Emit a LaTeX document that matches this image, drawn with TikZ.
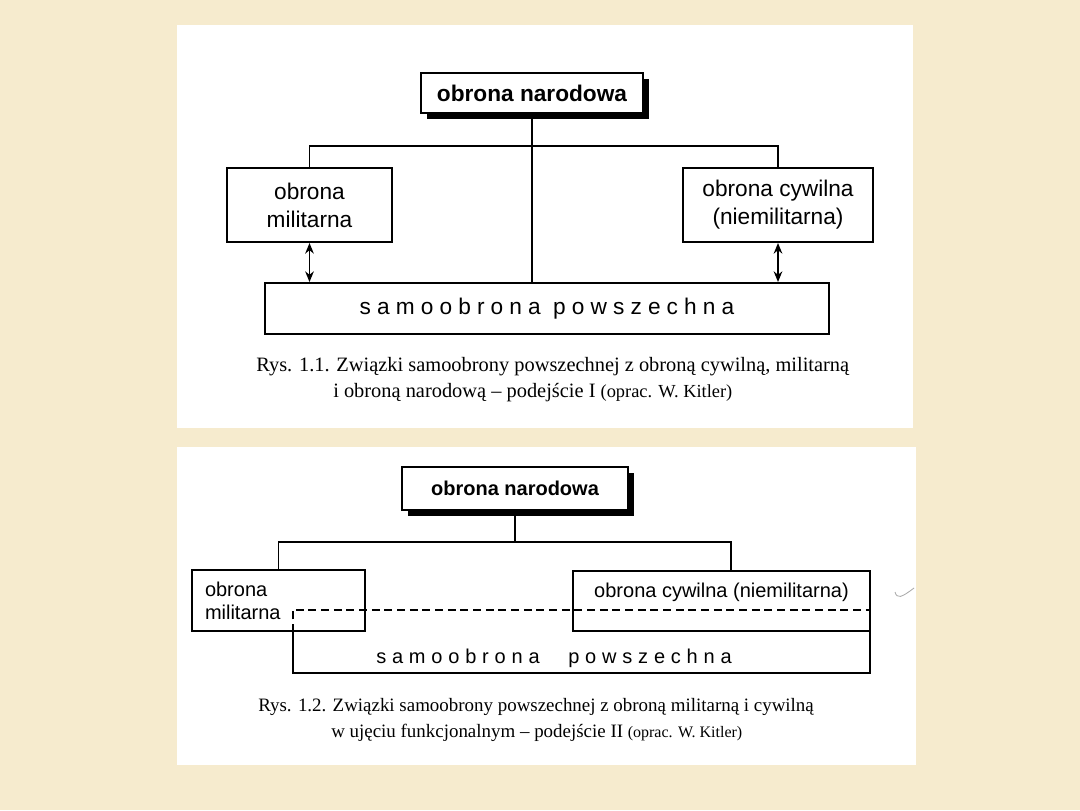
\documentclass[tikz,border=0pt]{standalone}
\usepackage{fontspec}
\setmainfont{Liberation Serif}
\newfontfamily\arialf{Liberation Sans}
\usetikzlibrary{arrows.meta,shadows,calc}
\definecolor{bgbeige}{RGB}{246,235,206}
\newcommand\fontDA{\arialf\fontsize{17}{21}\selectfont}
\newcommand\fontDB{\arialf\fontsize{15}{17.25}\selectfont}
\newcommand\capA{\fontsize{15.3}{18}\selectfont}
\newcommand\capB{\fontsize{14.2}{17}\selectfont}
\begin{document}
\begin{tikzpicture}[x=0.75pt,y=-0.75pt,
  box/.style={draw=black, line width=1.5pt, fill=white, inner sep=0pt},
  shadowbox/.style={box, drop shadow={shadow xshift=4.5pt, shadow yshift=-4.5pt, fill=black, opacity=1}},
  conn/.style={draw=black, line width=0.9pt},
  dbl/.style={draw=black, line width=1.1pt, {Stealth[length=8pt,width=6.5pt]}-{Stealth[length=8pt,width=6.5pt]}},
  region/.style={draw=black, line width=1.2pt},
  dashline/.style={region, dash pattern=on 6pt off 3.5pt},
  txt/.style={inner sep=0pt},
  capt/.style={inner sep=0pt, anchor=base west}
]
% background and panels
\fill[bgbeige] (0,0) rectangle (1080,810);
\fill[white] (177,25) rectangle (913,428);
\fill[white] (177,447) rectangle (916,765);

% ---------- Diagram 1 ----------
\node[shadowbox, minimum width=166.5pt, minimum height=30pt, font=\fontDA\bfseries] (nn1) at (532,93) {obrona narodowa};
\node[box, minimum width=123.75pt, minimum height=55.5pt, align=center, font=\fontDA] (mil1) at (309.5,205) {obrona\\militarna};
\node[box, minimum width=142.5pt, minimum height=55.5pt, align=center, font=\fontDA] (cyw1) at (778,205) {obrona cywilna\\(niemilitarna)};
\node[box, minimum width=423pt, minimum height=38.25pt, font=\fontDA] (sam1) at (547,308.5) {\addfontfeature{LetterSpace=27}samoobrona powszechna};

\coordinate (h1) at (0,146);
\draw[conn] (nn1.south) -- (nn1.south |- sam1.north);
\draw[conn] (mil1.north) |- (cyw1.north |- h1) -- (cyw1.north);
\draw[dbl] (mil1.south) -- (mil1.south |- sam1.north);
\draw[dbl] (cyw1.south) -- (cyw1.south |- sam1.north);

\node[capt, font=\capA] (c1a) at (256,371) {Rys. 1.1. Związki samoobrony powszechnej z obroną cywilną, militarną};
\node[capt, font=\capA] (c1b) at (333,397) {i obroną narodową – podejście I {\fontsize{13.8}{16}\selectfont(oprac. W. Kitler)}};

% ---------- Diagram 2 ----------
\node[shadowbox, minimum width=169.5pt, minimum height=32.25pt, font=\fontDB\bfseries] (nn2) at (515,488.5) {obrona narodowa};
\node[box, minimum width=129.75pt, minimum height=45.75pt, inner xsep=9.75pt, text width=110.25pt, align=left, font=\fontDB] (mil2) at (278.5,600.5) {obrona\\militarna};
\node[box, minimum width=222.75pt, minimum height=45pt] (cyw2) at (721.5,601) {};
\node[txt, font=\fontDB] (cyw2t) at (721.5,592) {obrona cywilna (niemilitarna)};
\node[inner sep=0pt, minimum width=432.75pt, minimum height=47.25pt] (sam2) at (581.5,641.5) {};
\node[txt, font=\fontDB] (sam2t) at (554,658) {\addfontfeature{LetterSpace=29}samoobrona \hspace{13pt}powszechna};

\coordinate (h2) at (0,542);
\coordinate (r2) at ($(cyw2.north west)!0.532!(cyw2.north east)$);
\draw[conn] (nn2.south) -- (nn2.south |- h2);
\draw[conn] (mil2.north) |- (r2 |- h2) -- (r2);
\draw[dashline] (sam2.north west |- mil2.south) -- (sam2.north west) -- (sam2.north east);
\draw[region] (sam2.north west |- mil2.south) |- (sam2.south east) -- (sam2.south east |- cyw2.south);

\node[capt, font=\capB] (c2a) at (258,711) {Rys. 1.2. Związki samoobrony powszechnej z obroną militarną i cywilną};
\node[capt, font=\capB] (c2b) at (331,737) {w ujęciu funkcjonalnym – podejście II {\fontsize{12}{14}\selectfont(oprac. W. Kitler)}};

% small tick mark
\coordinate (t1) at (895,592);
\coordinate (t2) at (914,588);
\draw[gray!70, line width=0.6pt] (t1) .. controls (897,599) and (901,598) .. (t2);
\end{tikzpicture}
\end{document}
